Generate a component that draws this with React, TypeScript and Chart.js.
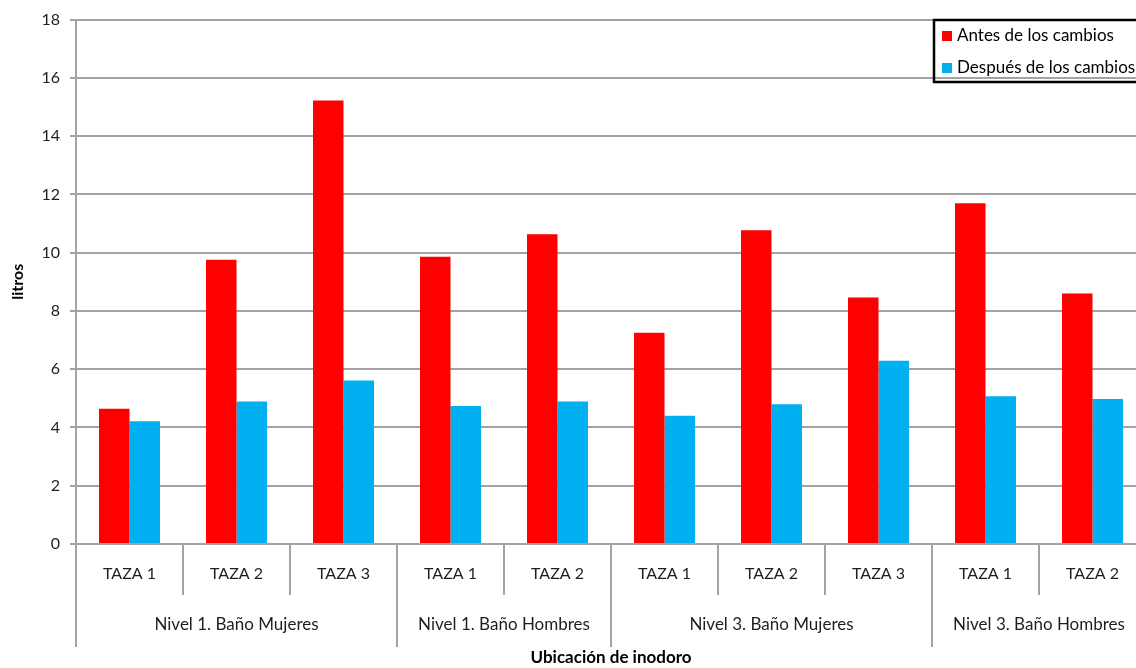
import React, { useEffect, useRef } from 'react';
import { Chart, registerables } from 'chart.js';

Chart.register(...registerables);

// ---- data ----
const categories = ['TAZA 1', 'TAZA 2', 'TAZA 3', 'TAZA 1', 'TAZA 2', 'TAZA 1', 'TAZA 2', 'TAZA 3', 'TAZA 1', 'TAZA 2'];
const groupLabels = ['Nivel 1. Baño Mujeres', 'Nivel 1. Baño Hombres', 'Nivel 3. Baño Mujeres', 'Nivel 3. Baño Hombres'];
const groupSizes = [3, 2, 3, 2];
const antes = [4.64, 9.76, 15.22, 9.86, 10.63, 7.25, 10.77, 8.46, 11.7, 8.6];
const despues = [4.21, 4.89, 5.61, 4.74, 4.89, 4.4, 4.8, 6.29, 5.07, 4.98];
const seriesNames = ['Antes de los cambios', 'Después de los cambios'];
const seriesColors = ['#FF0000', '#00B0F0'];
const yMin = 0;
const yMax = 18;
const yStep = 2;
const yTitle = 'litros';
const xTitle = 'Ubicación de inodoro';

const FONT = 'Lato, "Open Sans", sans-serif';
const GRID = '#a3a3a3';
const TEXT = '#1e1e1e';

const bottomAxisPlugin = {
  id: 'bottomAxis',
  afterDraw(chart: any) {
    const ctx = chart.ctx;
    const x = chart.scales.x;
    const area = chart.chartArea;
    const n = categories.length;
    const w = (x.right - x.left) / n;
    const y0 = area.bottom;
    ctx.save();
    // separators
    const groupEdges = new Set<number>();
    let acc = 0;
    groupEdges.add(0);
    groupSizes.forEach((s) => {
      acc += s;
      groupEdges.add(acc);
    });
    ctx.strokeStyle = GRID;
    ctx.lineWidth = 2;
    for (let i = 0; i <= n; i++) {
      const px = Math.round(x.left + i * w);
      const isGroup = groupEdges.has(i);
      ctx.beginPath();
      ctx.moveTo(px, y0);
      ctx.lineTo(px, isGroup ? y0 + 103 : y0 + 51);
      ctx.stroke();
    }
    // category labels
    ctx.fillStyle = TEXT;
    ctx.font = `16px ${FONT}`;
    ctx.textAlign = 'center';
    ctx.textBaseline = 'middle';
    categories.forEach((c, i) => {
      ctx.fillText(c, x.getPixelForValue(i), y0 + 29.5);
    });
    // group labels
    ctx.font = `17px ${FONT}`;
    let start = 0;
    groupLabels.forEach((g, k) => {
      const end = start + groupSizes[k];
      const cx = x.left + ((start + end) / 2) * w;
      ctx.fillText(g, cx, y0 + 80.5);
      start = end;
    });
    // legend
    ctx.strokeStyle = '#000';
    ctx.lineWidth = 2.5;
    ctx.strokeRect(934, 20, 300, 62);
    ctx.textAlign = 'left';
    ctx.font = `17px ${FONT}`;
    chart.data.datasets.forEach((ds: any, i: number) => {
      const cy = 36 + i * 32;
      ctx.fillStyle = ds.backgroundColor;
      ctx.fillRect(942, cy - 5, 10, 10);
      ctx.fillStyle = '#000';
      ctx.fillText(ds.label, 957, cy);
    });
    ctx.restore();
  },
};

export default function App() {
  const ref = useRef<HTMLCanvasElement>(null);
  useEffect(() => {
    document.body.style.margin = '0';
    document.body.style.overflow = 'hidden';
    const chart = new Chart(ref.current!, {
      type: 'bar',
      data: {
        labels: categories,
        datasets: [
          { label: seriesNames[0], data: antes, backgroundColor: seriesColors[0], borderWidth: 0 },
          { label: seriesNames[1], data: despues, backgroundColor: seriesColors[1], borderWidth: 0 },
        ],
      },
      options: {
        responsive: false,
        animation: false,
        devicePixelRatio: 1,
        layout: { padding: { top: 19, right: 4, left: 0, bottom: 0 } },
        datasets: { bar: { categoryPercentage: 0.57, barPercentage: 1 } },
        plugins: {
          legend: { display: false },
          tooltip: { enabled: false },
          title: { display: false },
        },
        scales: {
          x: {
            type: 'category',
            grid: { display: false },
            border: { display: true, color: GRID, width: 2 },
            ticks: { display: false },
            title: {
              display: true,
              text: xTitle,
              color: '#000',
              font: { family: FONT, size: 17, weight: 'bold', lineHeight: 1.2 },
              padding: { top: 0, bottom: 0 },
            },
            afterFit: (s: any) => {
              s.height = 124;
            },
          },
          y: {
            min: yMin,
            max: yMax,
            grid: { color: GRID, lineWidth: 2, drawTicks: true, tickLength: 6 },
            border: { display: true, color: GRID, width: 2 },
            ticks: {
              stepSize: yStep,
              padding: 10,
              color: TEXT,
              font: { family: FONT, size: 16 },
            },
            title: {
              display: true,
              text: yTitle,
              color: '#000',
              font: { family: FONT, size: 16, weight: 'bold', lineHeight: 1.2 },
              padding: { top: 8, bottom: 0 },
            },
            afterFit: (s: any) => {
              s.width = 76;
            },
          },
        },
      },
      plugins: [bottomAxisPlugin],
    });
    return () => chart.destroy();
  }, []);
  return (
    <div style={{ position: 'absolute', left: 0, top: 0, width: 1136, height: 668, overflow: 'hidden', background: '#fff' }}>
      <canvas ref={ref} width={1150} height={668} style={{ display: 'block' }} />
    </div>
  );
}
